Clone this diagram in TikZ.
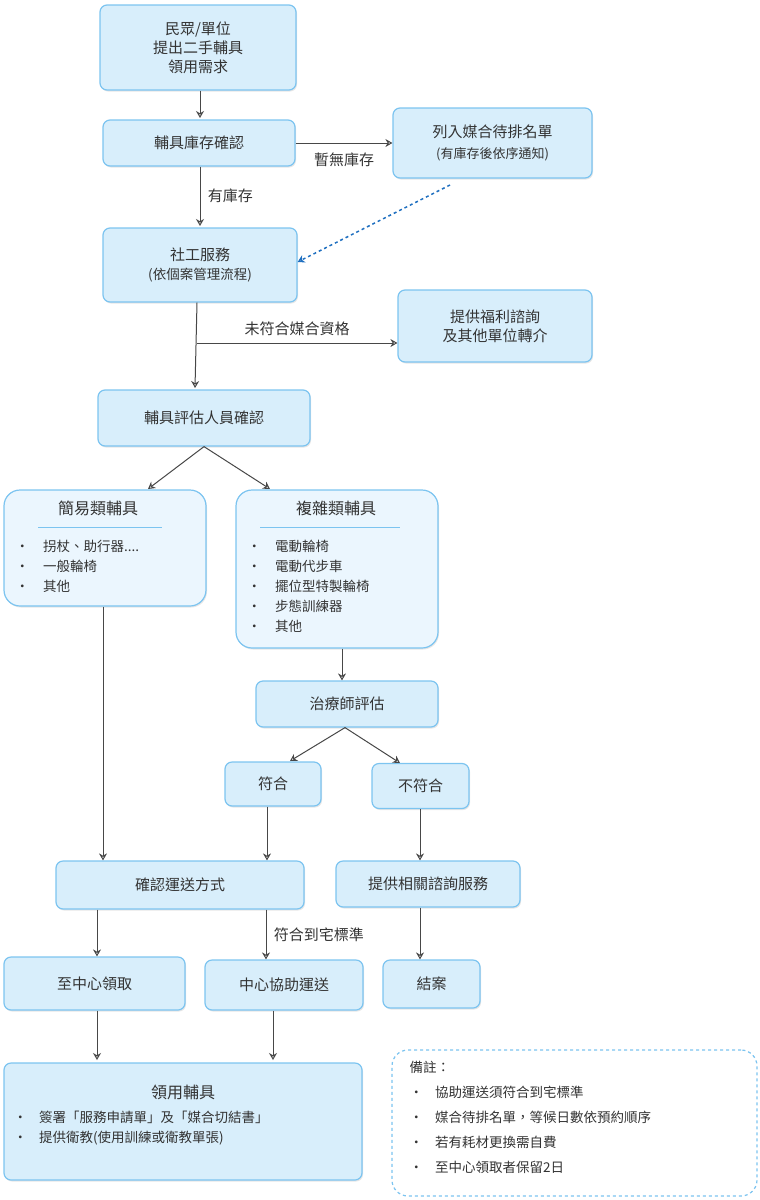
\documentclass[tikz,border=0pt]{standalone}
\usepackage{fontspec}
\setmainfont{Noto Sans CJK TC}
\usetikzlibrary{arrows.meta,shadows}
\definecolor{bfill}{HTML}{D8EEFB}
\definecolor{lfill}{HTML}{EBF6FE}
\definecolor{bdraw}{HTML}{7CC4F0}
\definecolor{txt}{HTML}{333333}
\definecolor{dblue}{HTML}{1F6FC0}
\tikzset{
 bx/.style={draw=bdraw,line width=1.2pt,fill=bfill,rounded corners=7pt,text=txt,font=\fontsize{15}{19}\selectfont,align=center,inner sep=0pt,drop shadow={shadow xshift=1pt,shadow yshift=-1.5pt,opacity=0.2}},
 lst/.style={bx,fill=lfill,rounded corners=16pt},
 ar/.style={-{Stealth[open,length=7pt,width=8pt]},line width=1pt,draw=txt!90},
 lbl/.style={text=txt,font=\fontsize{15}{18}\selectfont},
 sm/.style={text=txt,font=\fontsize{13.5}{20}\selectfont,align=left,anchor=north west}
}
\newcommand{\bxat}[6]{\node[#1,minimum width=#4pt,minimum height=#5pt] (#2) at (#3) {#6};}
\begin{document}
\begin{tikzpicture}[x=1pt,y=-1pt]
\useasboundingbox (0,0) rectangle (760,1200);
\bxat{bx}{a}{198,47.5}{196}{85}{民眾/單位\\提出二手輔具\\領用需求}
\bxat{bx}{b}{199,143}{192}{46}{輔具庫存確認}
\bxat{bx}{c}{492.5,143}{199}{70}{列入媒合待排名單\\[2pt]{\fontsize{13}{16}\selectfont(有庫存後依序通知)}}
\bxat{bx}{d}{200,265}{194}{74}{社工服務\\{\fontsize{13.5}{17}\selectfont(依個案管理流程)}}
\bxat{bx}{e}{495,326}{194}{72}{提供福利諮詢\\及其他單位轉介}
\bxat{bx}{f}{204,418}{212}{56}{輔具評估人員確認}
\node[lst,minimum width=202pt,minimum height=116pt] (g) at (105,548) {};
\node[lst,minimum width=202pt,minimum height=158pt] (h) at (337,569) {};
\node[lbl,font=\fontsize{16}{18}\selectfont] at (98,508) {簡易類輔具};
\draw[bdraw,line width=1pt] (38,527) -- (162,527);
\node[sm] at (12,537) {•\hspace{14pt}拐杖、助行器....\\•\hspace{14pt}一般輪椅\\•\hspace{14pt}其他};
\node[lbl,font=\fontsize{16}{18}\selectfont] at (336,508) {複雜類輔具};
\draw[bdraw,line width=1pt] (260,527) -- (400,527);
\node[sm] at (244,537) {•\hspace{14pt}電動輪椅\\•\hspace{14pt}電動代步車\\•\hspace{14pt}擺位型特製輪椅\\•\hspace{14pt}步態訓練器\\•\hspace{14pt}其他};
\bxat{bx}{i}{347,704}{182}{46}{治療師評估}
\bxat{bx}{j}{273,784}{96}{44}{符合}
\bxat{bx}{k}{420.5,786}{97}{45}{不符合}
\bxat{bx}{l}{180,885}{248}{48}{確認運送方式}
\bxat{bx}{m}{428,884}{184}{46}{提供相關諮詢服務}
\bxat{bx}{n}{94.5,983.5}{181}{53}{至中心領取}
\bxat{bx}{o}{284,985}{158}{50}{中心協助運送}
\bxat{bx}{p}{431.5,984}{97}{48}{結案}
\node[bx,minimum width=358pt,minimum height=117pt] (q) at (183,1121.5) {};
\node[lbl,font=\fontsize{16}{18}\selectfont] at (183,1092) {領用輔具};
\node[sm] at (10,1108) {•\hspace{12pt}簽署「服務申請單」及「媒合切結書」\\•\hspace{12pt}提供衛教(使用訓練或衛教單張)};
\node[draw=bdraw,line width=1.2pt,dashed,rounded corners=16pt,fill=white,minimum width=365pt,minimum height=146pt,inner sep=0pt] (r) at (574.5,1123) {};
\node[sm,font=\fontsize{13.5}{25}\selectfont] at (406,1058) {備註：\\•\hspace{12pt}協助運送須符合到宅標準\\•\hspace{12pt}媒合待排名單，等候日數依預約順序\\•\hspace{12pt}若有耗材更換需自費\\•\hspace{12pt}至中心領取者保留2日};
% arrows
\draw[ar] (a.south -| 200,0) -- (200,118);
\draw[ar] (b.east) -- (c.west) node[lbl,pos=0.5,below=6pt] {暫無庫存};
\draw[ar] (b.south -| 200,0) -- (200,226) node[lbl,midway,right=4pt] {有庫存};
\draw[ar,dblue,dashed,line width=1.5pt] (450,185) -- (d.east |- 0,262);
\coordinate (dj) at (197,343);
\draw[ar] (d.south -| 197,0) -- (195,388);
\draw[ar] (dj) -- (e.west |- 0,343) node[lbl,pos=0.5,above=3pt] {未符合媒合資格};
\draw[ar] (f.south -| 204,0) -- (148,489);
\draw[ar] (f.south -| 204,0) -- (270,489);
\draw[ar] (g.south -| 103,0) -- (l.north -| 103,0);
\draw[ar] (h.south -| 342,0) -- (i.north -| 342,0);
\draw[ar] (i.south -| 345,0) -- (290,761);
\draw[ar] (i.south -| 345,0) -- (400,763);
\draw[ar] (j.south -| 267,0) -- (l.north -| 267,0);
\draw[ar] (k.south -| 420,0) -- (m.north -| 420,0);
\draw[ar] (l.south -| 97,0) -- (n.north -| 97,0);
\draw[ar] (l.south -| 266,0) -- (o.north -| 266,0) node[lbl,midway,right=4pt] {符合到宅標準};
\draw[ar] (m.south -| 420,0) -- (p.north -| 420,0);
\draw[ar] (n.south -| 97,0) -- (97,1060);
\draw[ar] (o.south -| 273,0) -- (273,1060);
\end{tikzpicture}
\end{document}
